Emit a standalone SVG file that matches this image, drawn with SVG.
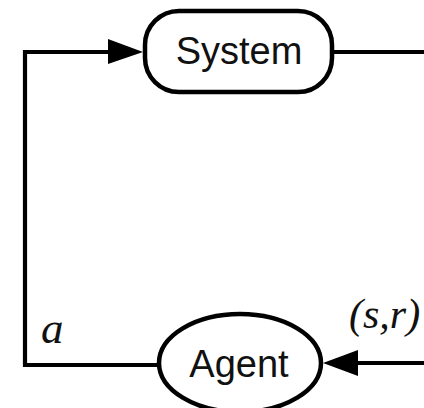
<svg xmlns="http://www.w3.org/2000/svg" width="424" height="408" viewBox="0 0 424 408">
  <defs>
    <style>
      .wire { fill: none; stroke: #000; stroke-width: 4.2; }
      .shape { fill: #fff; stroke: #000; stroke-width: 4.5; }
      .name { font-family: "Liberation Sans", Arial, sans-serif; font-size: 38px; fill: #111; text-anchor: middle; }
      .sym { font-family: "Liberation Serif", "Times New Roman", serif; font-style: italic; fill: #111; }
      .head { fill: #000; }
    </style>
  </defs>
  <rect width="424" height="408" fill="#fff"/>
  <g id="connectors">
    <!-- action loop: Agent -> System -->
    <polyline class="wire" points="157,365 25,365 25,52 112,52"/>
    <polygon class="head" points="108,39 143,52 108,64"/>
    <!-- observation loop: System -> Agent -->
    <line class="wire" x1="332" y1="52" x2="424" y2="52"/>
    <line class="wire" x1="424" y1="363" x2="352" y2="363"/>
    <polygon class="head" points="358,350 323,363 358,376"/>
    <text class="sym" x="41" y="343" font-size="45">a</text>
    <text class="sym" x="349" y="328" font-size="42">(s,r)</text>
  </g>
  <g id="system">
    <rect class="shape" x="145" y="11" width="187" height="81" rx="34" ry="34"/>
    <text class="name" x="239" y="64">System</text>
  </g>
  <g id="agent">
    <ellipse class="shape" cx="240" cy="363" rx="81" ry="49"/>
    <text class="name" x="239" y="377">Agent</text>
  </g>
</svg>
